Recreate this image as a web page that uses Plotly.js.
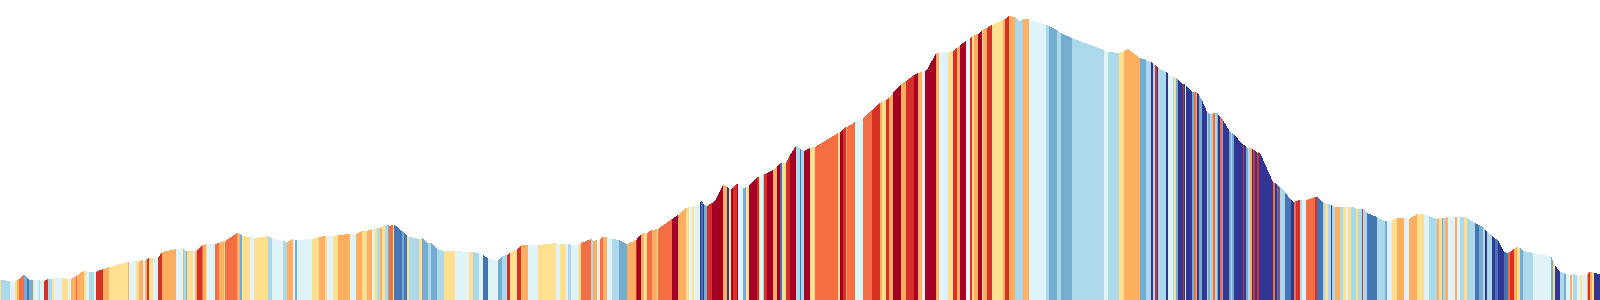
<!DOCTYPE html>
<html><head><meta charset="utf-8">
<script src="https://cdn.plot.ly/plotly-3.0.1.min.js"></script>
<style>
html,body{margin:0;padding:0;background:#fff;overflow:hidden}
#chart{width:1600px;height:300px}
#chart path.js-fill{shape-rendering:crispEdges}
</style>
</head><body><div id="chart"></div>
<script>
// Route profile: distance along route and elevation at each breakpoint
const distance = [0,1,10,15,17,19,24,27,29,33,34,39,40,44,48,52,54,62,68,71,76,77,84,86,89,94,96,103,109,128,129,136,139,143,145,147,149,153,158,162,176,183,184,186,187,193,195,197,202,203,206,207,215,219,224,225,237,240,242,250,254,268,272,283,287,293,295,297,312,319,325,327,333,338,350,356,362,367,372,374,377,380,382,385,388,389,393,394,396,402,404,407,409,419,422,428,431,437,444,455,469,473,479,483,488,498,502,507,510,517,521,528,538,556,560,566,568,571,578,581,591,593,597,600,603,607,612,619,627,636,637,641,644,647,652,657,658,672,678,686,689,692,694,700,701,703,704,707,712,716,723,727,729,731,733,737,738,743,746,749,757,759,760,763,764,767,773,777,780,782,786,790,796,800,801,804,810,815,838,840,843,846,847,855,863,872,880,882,886,889,893,901,906,914,918,922,925,928,936,939,948,953,957,960,966,970,972,974,978,982,983,987,992,1003,1005,1009,1015,1020,1023,1029,1046,1049,1057,1061,1072,1104,1108,1119,1124,1128,1140,1146,1151,1153,1155,1157,1158,1166,1168,1173,1174,1176,1178,1183,1184,1185,1186,1192,1194,1196,1197,1199,1202,1207,1208,1210,1212,1213,1215,1217,1218,1220,1222,1223,1229,1231,1232,1234,1243,1244,1246,1248,1250,1252,1253,1255,1257,1259,1261,1273,1275,1277,1279,1280,1285,1291,1294,1296,1300,1302,1306,1315,1317,1323,1325,1328,1331,1332,1335,1340,1343,1346,1348,1351,1356,1358,1362,1363,1367,1377,1385,1387,1392,1397,1404,1409,1417,1424,1429,1437,1439,1442,1443,1445,1448,1455,1457,1460,1464,1467,1475,1479,1483,1485,1487,1492,1495,1498,1504,1508,1510,1514,1517,1520,1523,1533,1551,1553,1555,1560,1564,1566,1570,1572,1573,1577,1580,1582,1587,1588,1590,1592,1594,1600];

const elevation = [20,20,19,19,20,21,25,22,20,20,20,20,19,19,21,21,22,22,21,21,24,25,29,29,28,28,28,31,33,38,38,39,39,40,40,41,42,42,42,48,51,51,50,49,49,49,49,50,55,55,56,56,56,57,59,59,67,66,64,63,62,64,62,59,58,61,60,60,61,63,64,64,64,65,66,66,69,69,71,71,72,72,74,75,75,74,75,75,74,69,67,64,63,61,62,57,57,51,49,49,48,48,47,45,42,39,44,45,48,50,55,55,55,57,56,56,56,55,55,57,61,59,60,61,63,63,61,60,56,60,61,66,67,67,70,71,71,81,85,92,93,93,94,96,99,97,95,94,97,101,115,114,111,110,113,116,117,112,113,114,123,123,123,126,126,127,130,134,137,137,137,145,154,152,150,149,152,153,167,168,171,173,173,178,182,190,197,199,200,203,207,216,219,225,227,228,229,232,247,247,248,249,252,255,259,261,264,265,266,270,271,272,275,280,281,284,283,279,281,281,275,274,270,267,262,250,248,247,249,251,242,240,238,236,235,233,232,228,226,223,223,222,220,216,216,216,215,208,208,208,207,205,200,188,187,186,186,187,187,187,186,183,182,180,170,167,167,166,155,155,153,152,152,152,150,150,147,148,145,118,117,115,113,113,108,100,98,99,100,100,100,103,103,98,97,96,95,94,93,93,93,93,93,93,92,91,91,92,87,83,79,79,80,82,82,81,86,86,84,81,82,82,82,82,83,83,83,83,83,82,77,75,73,70,68,65,61,60,48,47,48,51,53,52,49,47,44,39,35,28,27,26,25,26,26,25,24,25,24,27,28,28,27,26];

// Gradient class of each segment: 0 = steepest climb ... 9 = steepest descent
const gradeClass = [4,6,5,4,3,2,7,8,7,4,5,6,5,1,6,4,5,4,5,3,2,3,4,5,6,5,1,3,4,3,5,4,3,5,3,1,4,5,1,3,5,3,6,7,4,5,3,1,2,3,4,5,2,3,4,2,3,7,4,5,4,6,5,6,3,5,7,5,4,3,4,5,4,3,5,3,4,3,5,4,6,3,4,6,7,2,4,8,8,7,8,4,6,4,7,6,7,6,4,5,4,6,5,8,5,7,6,1,4,1,3,5,4,5,4,5,6,5,4,2,6,3,5,2,3,5,6,7,3,1,0,3,4,2,3,4,2,0,3,4,5,4,5,9,8,9,7,1,0,0,3,9,4,0,1,0,5,7,4,0,1,4,5,6,1,0,3,0,8,4,1,0,6,8,6,0,4,2,4,0,1,3,2,5,2,1,3,4,1,3,0,3,1,0,3,5,0,0,3,5,4,1,3,0,5,1,4,3,0,4,3,1,4,3,1,3,6,6,3,5,6,7,6,7,6,5,6,4,3,3,7,6,9,6,1,9,6,9,5,6,4,7,9,1,9,5,9,7,2,3,9,7,9,6,7,6,3,2,6,7,9,2,7,9,7,6,7,9,1,9,7,6,3,9,1,9,1,9,9,2,9,8,1,6,8,9,2,1,6,5,2,1,8,6,4,6,9,6,3,6,4,5,4,6,4,6,1,6,8,6,7,5,4,3,5,3,4,5,6,3,4,7,6,3,5,3,5,6,4,6,8,7,6,9,6,9,8,9,8,2,1,3,4,7,6,5,7,4,9,6,7,5,3,5,6,5,4,5,3,1,3,4,9];

const palette = ['#a50026','#d73027','#f46d43','#fdae61','#fee090','#e0f3f8','#abd9e9','#74add1','#4575b4','#313695'];

const traces = palette.map(c => ({
  type: 'scatter', mode: 'none', x: [], y: [], fill: 'toself', fillcolor: c,
  hoverinfo: 'skip', showlegend: false
}));
const n = Math.min(gradeClass.length, distance.length - 1);
for (let i = 0; i < n; i++) {
  const t = traces[gradeClass[i]];
  t.x.push(distance[i], distance[i], distance[i+1], distance[i+1], null);
  t.y.push(0, elevation[i], elevation[i+1], 0, null);
}

const layout = {
  width: 1600, height: 300,
  margin: {l: 0, r: 0, t: 0, b: 0, pad: 0},
  paper_bgcolor: '#ffffff', plot_bgcolor: '#ffffff',
  xaxis: {range: [0, 1600], visible: false, fixedrange: true},
  yaxis: {range: [0, 300], visible: false, fixedrange: true},
  showlegend: false
};
Plotly.newPlot('chart', traces.filter(t => t.x.length), layout, {displayModeBar: false, staticPlot: true});
</script>
</body></html>
